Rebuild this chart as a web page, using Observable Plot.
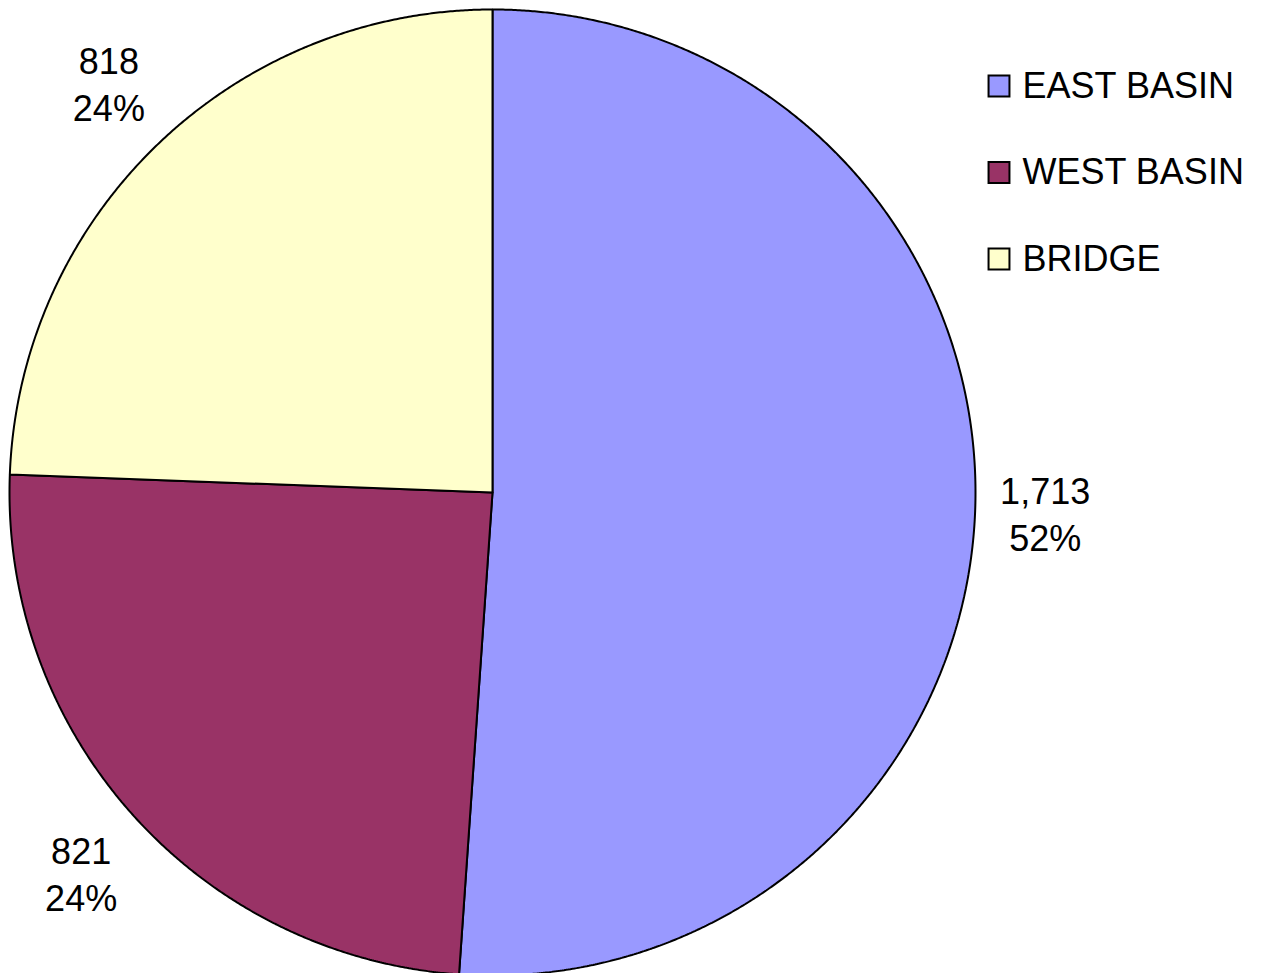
<!DOCTYPE html>
<html>
<head>
<meta charset="utf-8">
<script src="https://cdn.jsdelivr.net/npm/d3@7"></script>
<script src="https://cdn.jsdelivr.net/npm/@observablehq/plot@0.6"></script>
<style>
  html, body { margin: 0; padding: 0; background: #ffffff; }
  svg { display: block; }
</style>
</head>
<body>
<div id="chart"></div>
<script>
// ---- data ----
const categories = ["EAST BASIN", "WEST BASIN", "BRIDGE"];
const values = [1713, 821, 818];
const percentLabels = ["52%", "24%", "24%"];
const colors = ["#9999FF", "#993366", "#FFFFCC"];

// ---- layout ----
const W = 1261, H = 973;
const cx = 492, cy = 492, R = 483;
const FONT = "Arial, 'Liberation Sans', Helvetica, sans-serif";
const FS = 36;

// pie geometry (clockwise from 12 o'clock), in unit data coordinates
const arcs = d3.pie().sort(null).value(d => d)(values);
const slicePts = [];
arcs.forEach((a, i) => {
  const n = Math.max(2, Math.ceil((a.endAngle - a.startAngle) / (Math.PI / 720)));
  slicePts.push({cat: categories[i], x: 0, y: 0});
  for (let k = 0; k <= n; k++) {
    const t = a.startAngle + (a.endAngle - a.startAngle) * k / n;
    slicePts.push({cat: categories[i], x: Math.sin(t), y: Math.cos(t)});
  }
  slicePts.push({cat: categories[i], x: 0, y: 0});
});

// outside-end labels: horizontal and vertical offsets beyond the rim
const offX = 70, offY = 86;
const labels = arcs.map((a, i) => {
  const m = (a.startAngle + a.endAngle) / 2;
  return {x: (1 + offX / R) * Math.sin(m), y: (1 + offY / R) * Math.cos(m),
          text: d3.format(",")(values[i]) + "\n" + percentLabels[i]};
});

const legendMarks = categories.flatMap((c, i) => [
  Plot.dot([c], {frameAnchor: "top-left", dx: 998.5, dy: 85.5 + i * 86.5,
    symbol: "square", r: 11.8, fill: colors[i], stroke: "#000", strokeWidth: 2}),
  Plot.text([c], {frameAnchor: "top-left", dx: 1022, dy: 85.5 + i * 86.5,
    text: d => d, textAnchor: "start", lineAnchor: "middle", fontSize: FS, fill: "#000"})
]);

const chart = Plot.plot({
  width: W, height: H, margin: 0,
  style: {fontFamily: FONT, background: "#ffffff", overflow: "visible"},
  x: {domain: [-1, 1], range: [cx - R, cx + R], axis: null},
  y: {domain: [-1, 1], range: [cy + R, cy - R], axis: null},
  color: {domain: categories, range: colors},
  marks: [
    Plot.line(slicePts, {x: "x", y: "y", z: "cat", fill: "cat", stroke: "#000",
      strokeWidth: 2, strokeLinejoin: "miter"}),
    Plot.text(labels, {x: "x", y: "y", text: "text", fontSize: FS, lineHeight: 1.3,
      textAnchor: "middle", lineAnchor: "middle", fill: "#000"}),
    ...legendMarks
  ]
});
document.getElementById("chart").appendChild(chart);
</script>
</body>
</html>
